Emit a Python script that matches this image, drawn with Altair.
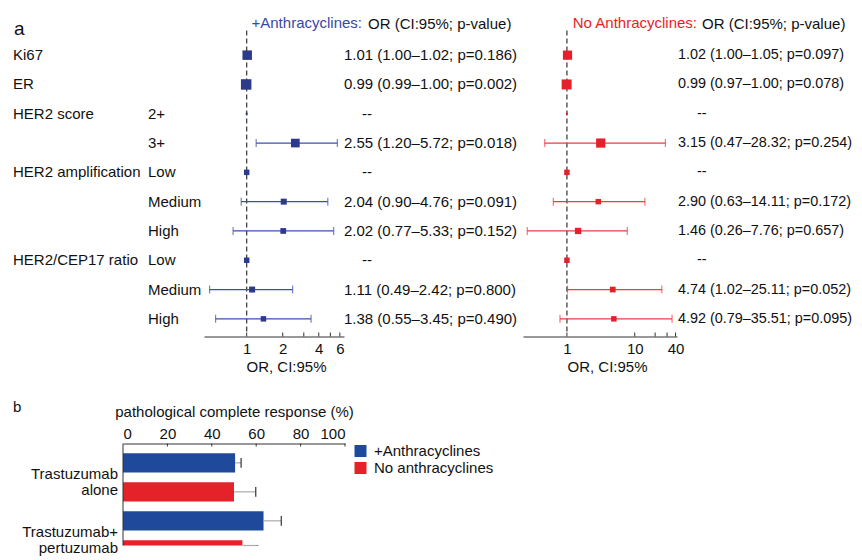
import json
import altair as alt
import pandas as pd

FONT = "Liberation Sans"
TXT = "#111111"
BLUE_PT = "#2b3a8a"
BLUE_CI = "#3d4fae"
RED_PT = "#e4202a"
RED_CI = "#ee3b42"
BLUE_HDR = "#3a47a5"
RED_HDR = "#ec1c24"
BAR_BLUE = "#1f4a9c"
BAR_RED = "#e52229"

# ---------------- data: panel a ----------------
groups = ["Ki67", "ER", "HER2 score", "HER2 score", "HER2 amplification",
          "HER2 amplification", "HER2 amplification", "HER2/CEP17 ratio",
          "HER2/CEP17 ratio", "HER2/CEP17 ratio"]
levels = ["", "", "2+", "3+", "Low", "Medium", "High", "Low", "Medium", "High"]

anth_or = [1.01, 0.99, 1.0, 2.55, 1.0, 2.04, 2.02, 1.0, 1.11, 1.38]
anth_lo = [1.00, 0.99, None, 1.20, None, 0.90, 0.77, None, 0.49, 0.55]
anth_hi = [1.02, 1.00, None, 5.72, None, 4.76, 5.33, None, 2.42, 3.45]
anth_p = [0.186, 0.002, None, 0.018, None, 0.091, 0.152, None, 0.800, 0.490]
anth_weight = [0.9, 1.1, 0.04, 0.75, 0.3, 0.36, 0.33, 0.3, 0.36, 0.3]

noan_or = [1.02, 0.99, 1.0, 3.15, 1.0, 2.90, 1.46, 1.0, 4.74, 4.92]
noan_lo = [1.00, 0.97, None, 0.47, None, 0.63, 0.26, None, 1.02, 0.79]
noan_hi = [1.05, 1.00, None, 28.32, None, 14.11, 7.76, None, 25.11, 35.51]
noan_p = [0.097, 0.078, None, 0.254, None, 0.172, 0.657, None, 0.052, 0.095]
noan_weight = [0.85, 1.0, 0.04, 0.85, 0.3, 0.3, 0.4, 0.3, 0.33, 0.3]

anth_ticks = [1, 2, 3, 4, 5, 6]
anth_tick_labels = [1, 2, 4, 6]
noan_ticks = [1, 10, 20, 30, 40]
noan_tick_labels = [1, 10, 40]

# ---------------- data: panel b ----------------
regimens = ["Trastuzumab alone", "Trastuzumab+ pertuzumab"]
arms = ["+Anthracyclines", "No anthracyclines"]
pcr_anth = [50.5, 63.3]
pcr_anth_upper = [53.2, 71.3]
pcr_noan = [50.0, 53.8]
pcr_noan_upper = [59.8, 60.7]
pcr_ticks = [20, 40, 60, 80, 100]

# ---------------- helpers ----------------
row_keys = [(g + " " + l).strip() for g, l in zip(groups, levels)]
group_labels = [g if (i == 0 or groups[i - 1] != g) else "" for i, g in enumerate(groups)]

H = 293
yscale = alt.Scale(type="point", domain=row_keys, padding=0.5)
Y = alt.Y("row:N", scale=yscale, axis=None)


def fmt_labels(o, lo, hi, p):
    out = []
    for a, b, c, d in zip(o, lo, hi, p):
        if b is None:
            out.append("--")
        else:
            out.append(f"{a:.2f} ({b:.2f}\u2013{c:.2f}; p={d:.3f})")
    return out


def title(text, color=TXT, anchor="start", dx=0, size=15, offset=12):
    return alt.TitleParams(text, anchor=anchor, color=color, dx=dx, fontSize=size,
                           font=FONT, fontWeight="normal", offset=offset,
                           baseline="alphabetic", frame="group")


def text_panel(labels, width, ttl=None, dash_dx=18, x0=0, fsize=15):
    df = pd.DataFrame({"row": row_keys, "label": labels})
    base = alt.Chart(df)
    vals = base.transform_filter("datum.label != '--'").mark_text(
        align="left", baseline="middle", fontSize=fsize, font=FONT, color=TXT
    ).encode(x=alt.value(x0), y=Y, text="label:N")
    dashes = base.transform_filter("datum.label == '--'").mark_text(
        align="left", baseline="middle", fontSize=fsize, font=FONT, color=TXT, dx=dash_dx
    ).encode(x=alt.value(x0), y=Y, text="label:N")
    ch = alt.layer(vals, dashes).properties(width=width, height=H)
    if ttl is not None:
        ch = ch.properties(title=ttl)
    return ch


def forest(o, lo, hi, w, pt_color, ci_color, domain, ticks, tick_labels, width,
           title_x, ttl):
    df = pd.DataFrame({"row": row_keys, "or": o, "lo": lo, "hi": hi, "w": w})
    xscale = alt.Scale(type="log", domain=domain)
    xaxis = alt.Axis(values=tick_labels, ticks=False, tickSize=0, grid=False,
                     title="OR, CI:95%", titleAlign="left", titleX=title_x,
                     titleFontSize=15, titleFont=FONT, titleFontWeight="normal",
                     titleColor=TXT, labelFontSize=15, labelFont=FONT, labelColor=TXT,
                     labelPadding=5, titlePadding=3, offset=3, domainColor="#333333",
                     format="~g")
    base = alt.Chart(df)
    ref = alt.Chart(pd.DataFrame({"one": [1]})).mark_rule(
        strokeDash=[5, 3], color="#333333", strokeWidth=1.2
    ).encode(x=alt.X("one:Q", scale=xscale, axis=xaxis),
             y=alt.value(-10), y2=alt.value(H + 1))
    tk = alt.Chart(pd.DataFrame({"t": ticks})).mark_rule(color="#333333").encode(
        x=alt.X("t:Q", scale=xscale, axis=xaxis),
        y=alt.value(H - 1), y2=alt.value(H + 3))
    ci = base.mark_rule(color=ci_color, strokeWidth=1.2).encode(
        x=alt.X("lo:Q", scale=xscale, axis=xaxis), x2="hi:Q", y=Y)
    caps = base.transform_fold(["lo", "hi"], as_=["end", "v"]).mark_tick(
        color=ci_color, size=8, thickness=1.2
    ).encode(x=alt.X("v:Q", scale=xscale, axis=xaxis), y=Y)
    pts = base.mark_square(opacity=1, color=pt_color).encode(
        x=alt.X("or:Q", scale=xscale, axis=xaxis), y=Y,
        size=alt.Size("w:Q", scale=alt.Scale(domain=[0, 1], range=[0, 100]), legend=None))
    return alt.layer(ref, tk, ci, caps, pts).properties(width=width, height=H, title=ttl)


p1 = text_panel(group_labels, 135, ttl=title("a", size=19, dx=1, offset=-13.6))
p2 = text_panel(levels, 56)
p3 = forest(anth_or, anth_lo, anth_hi, anth_weight, BLUE_PT, BLUE_CI,
            [0.44, 6.5], anth_ticks, anth_tick_labels, 140, 42,
            title("+Anthracyclines:", color=BLUE_HDR, anchor="end", dx=18, offset=-13.3))
p4 = text_panel(fmt_labels(anth_or, anth_lo, anth_hi, anth_p), 179,
                ttl=title("OR (CI:95%; p-value)", dx=24, offset=-3.3))
p5 = forest(noan_or, noan_lo, noan_hi, noan_weight, RED_PT, RED_CI,
            [0.225, 42], noan_ticks, noan_tick_labels, 154, 44,
            title("No Anthracyclines:", color=RED_HDR, anchor="end", dx=20, offset=-13.3))
p6 = text_panel(fmt_labels(noan_or, noan_lo, noan_hi, noan_p), 174,
                ttl=title("OR (CI:95%; p-value)", dx=25, offset=-3.3), dash_dx=19, x0=1,
                fsize=14.4)

top = alt.hconcat(p1, p2, p3, p4, p5, p6, spacing=0, bounds="flush")

# ---------------- panel b ----------------
rows = []
for i, r in enumerate(regimens):
    rows.append({"regimen": r, "arm": arms[0], "pcr": pcr_anth[i], "upper": pcr_anth_upper[i]})
    rows.append({"regimen": r, "arm": arms[1], "pcr": pcr_noan[i], "upper": pcr_noan_upper[i]})
bdf = pd.DataFrame(rows)

BH = 102
SLOT = 29.0                       # pixels per bar slot
Y_MIN = -1 / 6
Y_MAX = Y_MIN + BH / SLOT
reg_js = json.dumps(regimens)
arm_js = json.dumps(arms)
slot_expr = f"2*indexof({reg_js}, datum.regimen) + indexof({arm_js}, datum.arm)"

bx_scale = alt.Scale(domain=[0, 100])
bx_axis = alt.Axis(orient="top", values=[0, 20, 40, 60, 80, 100], ticks=False, tickSize=0,
                   grid=False, title="pathological complete response (%)",
                   titleFontSize=15, titleFont=FONT, titleFontWeight="normal", titleColor=TXT,
                   labelFontSize=15, labelFont=FONT, labelColor=TXT, labelPadding=2.5,
                   titlePadding=7, domainColor="#333333")
by_scale = alt.Scale(domain=[Y_MIN, Y_MAX], reverse=True, clamp=True, nice=False, zero=False)

bbase = alt.Chart(bdf).transform_calculate(slot=slot_expr).transform_calculate(
    top="datum.slot + 1/6", bot="datum.slot + 5/6", mid="datum.slot + 0.5",
    ctop="datum.slot + 1/3", cbot="datum.slot + 2/3", zero="0")

bars = bbase.mark_rect().encode(
    x=alt.X("zero:Q", scale=bx_scale, axis=bx_axis), x2="pcr:Q",
    y=alt.Y("top:Q", scale=by_scale, axis=None), y2="bot:Q",
    color=alt.Color("arm:N", scale=alt.Scale(domain=arms, range=[BAR_BLUE, BAR_RED]),
                    legend=alt.Legend(orient="right", title=None, symbolType="square",
                                      symbolSize=144, symbolStrokeWidth=0,
                                      labelFontSize=15, labelFont=FONT, labelColor=TXT,
                                      offset=8, rowPadding=1, labelOffset=6, padding=0)))
err = bbase.mark_rule(color="#aaaaaa", strokeWidth=1.2).encode(
    x=alt.X("pcr:Q", scale=bx_scale, axis=bx_axis), x2="upper:Q",
    y=alt.Y("mid:Q", scale=by_scale, axis=None))
caps = bbase.mark_rule(color="#333333", strokeWidth=1.2).encode(
    x=alt.X("upper:Q", scale=bx_scale, axis=bx_axis),
    y=alt.Y("ctop:Q", scale=by_scale, axis=None), y2="cbot:Q")
xt = alt.Chart(pd.DataFrame({"t": pcr_ticks})).mark_rule(color="#333333").encode(
    x=alt.X("t:Q", scale=bx_scale, axis=bx_axis), y=alt.value(0), y2=alt.value(3))
yline = alt.Chart(pd.DataFrame({"z": [0]})).mark_rule(color="#333333").encode(
    x=alt.X("z:Q", scale=bx_scale, axis=bx_axis))

bars_chart = alt.layer(bars, err, caps, xt, yline).properties(width=222, height=BH)

bpanel = alt.Chart(pd.DataFrame({"regimen": regimens})).transform_calculate(
    lines="split(datum.regimen, ' ')",
    lc=f"2*indexof({reg_js}, datum.regimen) + 1"
).mark_text(align="right", baseline="middle", fontSize=15, font=FONT, color=TXT,
            lineHeight=16, dy=-3).encode(
    x=alt.value(105), y=alt.Y("lc:Q", scale=by_scale, axis=None),
    text="lines:N"
).properties(width=110, height=BH, title=title("b", offset=16.5))

bottom = alt.hconcat(bpanel, bars_chart, spacing=0, bounds="flush").resolve_scale(
    color="independent").resolve_legend(color="independent")

chart = alt.vconcat(top, bottom, spacing=25).resolve_scale(
    color="independent").resolve_legend(color="independent").properties(
    padding={"left": 5, "top": 7.5, "right": 0, "bottom": 0}).configure_view(
    stroke="transparent", strokeWidth=0)

chart.save("out.html", embed_options={"renderer": "svg", "actions": False})
